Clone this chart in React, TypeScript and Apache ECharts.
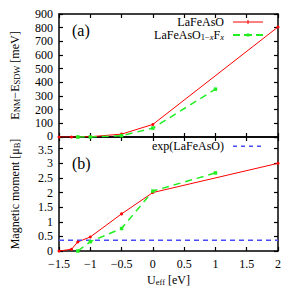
import React, { useEffect, useRef } from "react";
import * as echarts from "echarts";

const uRedTop = [-1.5, -1.3, -1.2, -1, -0.5, 0, 2];
const eRedTop = [0, 0, 0, 2, 21, 92, 805];
const uGreenTop = [-1.2, -1, -0.5, 0, 1];
const eGreenTop = [0, 0, 10, 65, 350];

const uRedBot = [-1.5, -1.3, -1.2, -1, -0.5, 0, 2];
const mRedBot = [0, 0.06, 0.31, 0.48, 1.27, 2.0, 3.0];
const uGreenBot = [-1.2, -1, -0.5, 0, 1];
const mGreenBot = [0, 0.32, 0.77, 2.05, 2.67];
const uExp = [-1.5, 2];
const mExp = [0.37, 0.37];

const RED = "#ff0000";
const GREEN = "#22ee22";
const BLUE = "#4a4aff";
const FONT = "'Liberation Serif', 'DejaVu Serif', serif";

const zip = (a: number[], b: number[]) => a.map((v, i) => [v, b[i]]);
const minus = (v: number) => String(v).replace("-", "\u2212");

const ICON_RED = "path://M0 2h30v1H0z M14.5 0.5h1v4h-1z M13 2h4v1h-4z M0 0h0.01v0.01H0z M29.99 4.99h0.01v0.01h-0.01z";
const ICON_GREEN = "path://M0 1.5h7v2H0z M11 1.5h8v2h-8z M13.5 1h3v3h-3z M23 1.5h7v2h-7z M0 0h0.01v0.01H0z M29.99 4.99h0.01v0.01h-0.01z";
const ICON_BLUE = "path://M0 2h4v1.5H0z M8 2h4v1.5H8z M16 2h4v1.5h-4z M24 2h4v1.5h-4z M0 0h0.01v0.01H0z M29.99 4.99h0.01v0.01h-0.01z";

export default function App() {
  const ref = useRef<HTMLDivElement>(null);
  useEffect(() => {
    const chart = echarts.init(ref.current!, null, { renderer: "svg" });
    const axisLine = { show: true, onZero: false, lineStyle: { color: "#000", width: 1.5 } };
    const tick = { show: true, inside: true, length: 4, lineStyle: { color: "#000", width: 1.2 } };
    const lbl = { color: "#000", fontFamily: FONT, fontSize: 12, lineHeight: 10, formatter: minus };
    const xBase = { type: "value", min: -1.5, max: 2, interval: 0.5, axisLine, axisTick: tick, splitLine: { show: false } };
    const rich = {
      n: { fontFamily: FONT, fontSize: 12, color: "#000", lineHeight: 13 },
      s: { fontFamily: FONT, fontSize: 8.5, color: "#000", lineHeight: 9, verticalAlign: "bottom" },
      si: { fontFamily: FONT, fontSize: 8.5, color: "#000", lineHeight: 9, verticalAlign: "bottom", fontStyle: "italic" },
    };
    const tickRich = {
      up: { fontFamily: FONT, fontSize: 12, color: "#000", lineHeight: 10, padding: [0, 0, 2, 0] },
      dn: { fontFamily: FONT, fontSize: 12, color: "#000", lineHeight: 10, padding: [3, 0, 0, 0] },
    };
    chart.setOption({
      animation: false,
      textStyle: { fontFamily: FONT },
      grid: [
        { left: 59, top: 14, width: 219, height: 123 },
        { left: 59, top: 137, width: 219, height: 114 },
      ],
      xAxis: [
        { ...xBase, gridIndex: 0, position: "bottom", axisLabel: { show: false } },
        { ...xBase, gridIndex: 0, position: "top", axisLabel: { show: false } },
        {
          ...xBase, gridIndex: 1, position: "bottom", axisLabel: { ...lbl, margin: 8, showMinLabel: true, showMaxLabel: true },
          name: "{n|U}{s|eff}{n| [eV]}", nameLocation: "middle", nameGap: 22,
          nameTextStyle: { rich },
        },
        { ...xBase, gridIndex: 1, position: "top", axisLabel: { show: false } },
      ],
      yAxis: [
        {
          type: "value", gridIndex: 0, position: "left", min: 0, max: 900, interval: 100,
          axisLine, axisTick: tick, splitLine: { show: false },
          axisLabel: { ...lbl, margin: 6, showMinLabel: true, showMaxLabel: true, rich: tickRich, formatter: (v: number) => (v === 0 ? "{up|0}" : minus(v)) },
          name: "{n|E}{s|NM}{n|\u2212E}{s|SDW}{n| [meV]}", nameLocation: "middle", nameGap: 38, nameRotate: 90,
          nameTextStyle: { rich },
        },
        { type: "value", gridIndex: 0, position: "right", min: 0, max: 900, interval: 100, axisLine, axisTick: tick, splitLine: { show: false }, axisLabel: { show: false } },
        {
          type: "value", gridIndex: 1, position: "left", min: 0, max: 3.9, interval: 0.5,
          axisLine, axisTick: tick, splitLine: { show: false },
          axisLabel: { ...lbl, margin: 6, showMinLabel: true, showMaxLabel: false, rich: tickRich, formatter: (v: number) => (v === 3.5 ? "{dn|3.5}" : minus(v)) },
          name: "{n|Magnetic moment [\u03bc}{s|B}{n|]}", nameLocation: "middle", nameGap: 38, nameRotate: 90,
          nameTextStyle: { rich },
        },
        { type: "value", gridIndex: 1, position: "right", min: 0, max: 3.9, interval: 0.5, axisLine, axisTick: tick, splitLine: { show: false }, axisLabel: { show: false } },
      ],
      legend: [
        {
          data: [
            { name: "LaFeAsO", icon: ICON_RED },
            { name: "LaFeAsO1-xFx", icon: ICON_GREEN },
          ],
          orient: "vertical", right: 35, top: 16, align: "right",
          itemWidth: 30, itemHeight: 5, itemGap: 1, padding: 0,
          formatter: (name: string) => name === "LaFeAsO" ? "{n|LaFeAsO}" : "{n|LaFeAsO}{s|1\u2212}{si|x}{n|F}{si|x}",
          textStyle: { rich, padding: [0, 4, 0, 0] },
        },
        {
          data: [{ name: "exp(LaFeAsO)", icon: ICON_BLUE }],
          orient: "vertical", right: 35, top: 140, align: "right",
          itemWidth: 30, itemHeight: 5, padding: 0,
          formatter: "{n|exp(LaFeAsO)}",
          textStyle: { rich, padding: [0, 4, 0, 0] },
        },
      ],
      graphic: [
        { type: "text", left: 72, top: 22, style: { text: "(a)", fontFamily: FONT, fontSize: 16, fill: "#000" } },
        { type: "text", left: 72, top: 155, style: { text: "(b)", fontFamily: FONT, fontSize: 16, fill: "#000" } },
      ],
      series: [
        {
          name: "LaFeAsO", type: "line", xAxisIndex: 0, yAxisIndex: 0, data: zip(uRedTop, eRedTop),
          symbol: "circle", symbolSize: 3, lineStyle: { color: RED, width: 1 }, itemStyle: { color: RED },
        },
        {
          name: "LaFeAsO1-xFx", type: "line", xAxisIndex: 0, yAxisIndex: 0, data: zip(uGreenTop, eGreenTop),
          symbol: "rect", symbolSize: 3.5, lineStyle: { color: GREEN, width: 1.5, type: [7, 5] }, itemStyle: { color: GREEN },
        },
        {
          name: "LaFeAsO", type: "line", xAxisIndex: 2, yAxisIndex: 2, data: zip(uRedBot, mRedBot),
          symbol: "circle", symbolSize: 3, lineStyle: { color: RED, width: 1 }, itemStyle: { color: RED },
        },
        {
          name: "LaFeAsO1-xFx", type: "line", xAxisIndex: 2, yAxisIndex: 2, data: zip(uGreenBot, mGreenBot),
          symbol: "rect", symbolSize: 3.5, lineStyle: { color: GREEN, width: 1.5, type: [7, 5] }, itemStyle: { color: GREEN },
        },
        {
          name: "exp(LaFeAsO)", type: "line", xAxisIndex: 2, yAxisIndex: 2, data: zip(uExp, mExp),
          symbol: "none", lineStyle: { color: BLUE, width: 1.5, type: [5, 4] }, itemStyle: { color: BLUE },
        },
      ],
    });
    return () => chart.dispose();
  }, []);
  return <div ref={ref} style={{ width: 298, height: 298, position: "absolute", left: 0, top: 0 }} />;
}
